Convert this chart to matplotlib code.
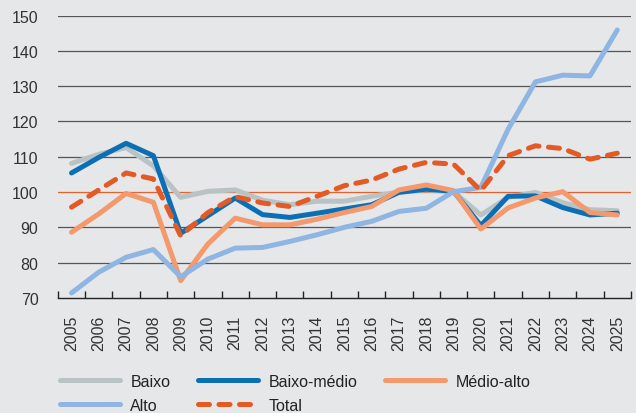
import matplotlib
matplotlib.use("Agg")
import matplotlib.pyplot as plt
from matplotlib import font_manager
import numpy as np

years = [str(y) for y in range(2005, 2026)]
baixo = [108.1, 110.7, 112.6, 107.4, 98.5, 100.2, 100.6, 97.7, 96.4, 97.4, 97.4, 98.8, 100.0, 100.6, 100.1, 93.5, 98.5, 99.9, 97.0, 95.0, 94.7]
baixo_medio = [105.4, 109.8, 113.8, 110.3, 88.3, 93.3, 98.3, 93.6, 92.8, 94.0, 95.2, 96.4, 99.9, 100.8, 100.2, 90.5, 98.8, 98.9, 95.6, 93.5, 94.0]
medio_alto = [88.6, 93.8, 99.6, 97.1, 74.9, 85.3, 92.6, 90.7, 90.7, 92.3, 94.2, 95.9, 100.6, 102.0, 100.4, 89.5, 95.5, 98.3, 100.1, 94.2, 93.5]
alto = [71.4, 77.3, 81.5, 83.7, 76.0, 81.0, 84.1, 84.3, 86.0, 87.9, 90.0, 91.7, 94.5, 95.4, 100.1, 101.3, 117.8, 131.2, 133.1, 132.9, 145.9]
total = [95.7, 100.6, 105.4, 103.7, 87.6, 94.2, 98.7, 96.9, 95.9, 98.8, 101.8, 103.4, 106.5, 108.4, 107.9, 100.4, 110.3, 113.1, 112.3, 109.3, 111.0]
yticks = [70, 80, 90, 100, 110, 120, 130, 140, 150]

names = {f.name for f in font_manager.fontManager.ttflist}
fam = "Liberation Sans Narrow" if "Liberation Sans Narrow" in names else "Liberation Sans"
plt.rcParams['font.family'] = [fam, 'DejaVu Sans']

bg = '#e6e7e9'
fig = plt.figure(figsize=(6.36, 4.14), dpi=100, facecolor=bg)
ax = fig.add_axes([0.091, 0.278, 0.901, 0.682], facecolor=bg)

x = np.arange(len(years))
for v in yticks[1:]:
    if v == 100:
        ax.axhline(v, color='#e8602c', lw=0.9, zorder=1)
    else:
        ax.axhline(v, color='#555555', lw=0.9, zorder=1)

lw = 3.6
l1, = ax.plot(x, baixo, color='#b9c3c3', lw=lw, label='Baixo', zorder=3, solid_capstyle='round')
l2, = ax.plot(x, baixo_medio, color='#0b6fb5', lw=lw, label='Baixo-médio', zorder=4, solid_capstyle='round')
l3, = ax.plot(x, medio_alto, color='#f4996c', lw=lw, label='Médio-alto', zorder=5, solid_capstyle='round')
l4, = ax.plot(x, alto, color='#8fb5e3', lw=lw, label='Alto', zorder=6, solid_capstyle='round')
l5, = ax.plot(x, total, color='#e35a24', lw=lw, label='Total', zorder=7, dashes=(2.2, 1.9), dash_capstyle='round')

ax.set_xlim(-0.5, len(years) - 0.5)
ax.set_ylim(70, 150)
ax.set_yticks(yticks)
ax.set_yticklabels([str(v) for v in yticks], fontsize=11.5, color='#333333')
ax.tick_params(axis='y', length=0, pad=14)
ax.set_xticks(x)
ax.set_xticklabels(years, rotation=90, fontsize=11.5, color='#333333')
ax.tick_params(axis='x', length=0, pad=12)
ax.set_xticks(np.arange(-0.5, len(years)), minor=True)
ax.tick_params(axis='x', which='minor', length=5, direction='in', width=1, color='#222222')
for s in ['top', 'right', 'left']:
    ax.spines[s].set_visible(False)
ax.spines['bottom'].set_color('#222222')
ax.spines['bottom'].set_linewidth(1)

leg = fig.legend([l1, l4, l2, l5, l3], ['Baixo', 'Alto', 'Baixo-médio', 'Total', 'Médio-alto'],
                 ncol=3, loc='upper left', bbox_to_anchor=(60 / 636, (414 - 375) / 414),
                 frameon=False, borderpad=0, borderaxespad=0,
                 fontsize=11.5, handlelength=3.75, handletextpad=0.65, columnspacing=1.75,
                 labelspacing=0.55)
for t in leg.get_texts():
    t.set_color('#222222')

fig.savefig('out.png', dpi=100, facecolor=bg)
